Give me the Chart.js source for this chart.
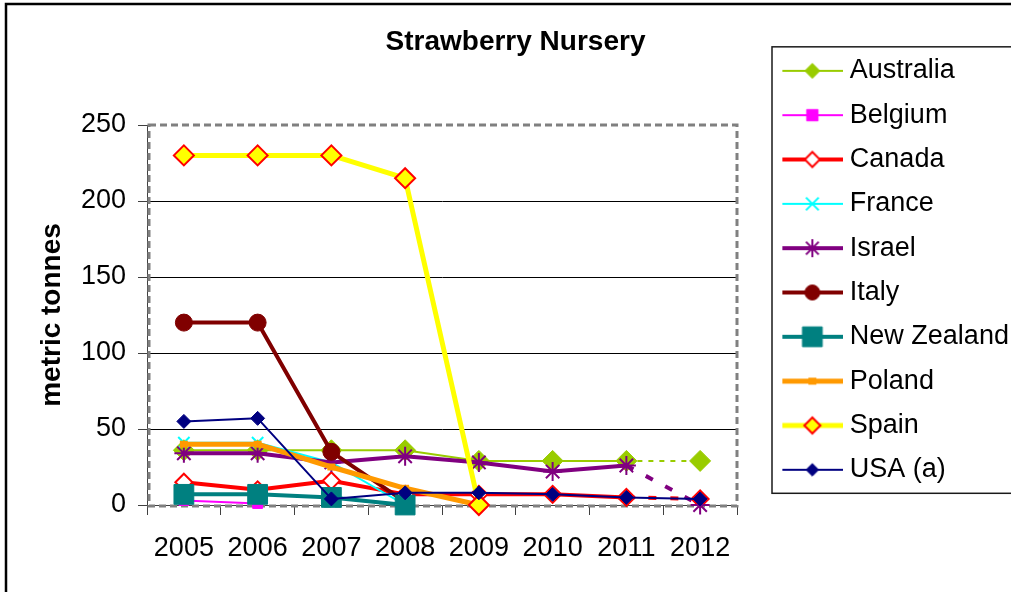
<!DOCTYPE html>
<html>
<head>
<meta charset="utf-8">
<title>Strawberry Nursery</title>
<script src="https://cdn.jsdelivr.net/npm/chart.js@4.4.1/dist/chart.umd.min.js"></script>
<style>
  html, body { margin: 0; padding: 0; background: #ffffff; }
  canvas { display: block; }
</style>
</head>
<body>
<canvas id="chart" width="1011" height="592"></canvas>
<script>
// ---- data (metric tonnes) ----
const years = ['2005', '2006', '2007', '2008', '2009', '2010', '2011', '2012'];
const yTickValues = [0, 50, 100, 150, 200, 250];

const australia  = [36, 36, 36, 36, 29, 29, 29, 29];
const belgium    = [3, 1, null, null, null, null, null, null];
const canada     = [15, 10, 16, 7, 7, 7, 5, 4];
const france     = [41, 41, 28, 0, null, null, null, null];
const israel     = [34, 34, 28, 32, 28, 22, 26, 0];
const italy      = [120, 120, 35, 2, null, null, null, null];
const newZealand = [7, 7, 5, 0, null, null, null, null];
const poland     = [40, 40, 25, 11, 0, null, null, null];
const spain      = [230, 230, 230, 215, 0, null, null, null];
const usa        = [55, 57, 4, 8, 8, 7, 5, 4];

// ---- series appearance ----
const FONT = "'Liberation Sans', Arial, Helvetica, sans-serif";
const series = [
  { label: 'Australia',   data: australia,  line: '#99CC00', width: 2, marker: 'rectRot',  radius: 10.5, legendRadius: 7.5, fill: '#99CC00', edge: '#99CC00', edgeWidth: 1, lastDash: [5, 6] },
  { label: 'Belgium',     data: belgium,    line: '#FF00FF', width: 2, marker: 'rect',     radius: 7,    legendRadius: 8,   fill: '#FF00FF', edge: '#FF00FF', edgeWidth: 1 },
  { label: 'Canada',      data: canada,     line: '#FF0000', width: 4, marker: 'rectRot',  radius: 8.5,  legendRadius: 7.5, fill: '#FFFFFF', edge: '#FF0000', edgeWidth: 2, lastDash: [8, 14] },
  { label: 'France',      data: france,     line: '#00FFFF', width: 2, marker: 'crossRot', radius: 8,    legendRadius: 9,   fill: '#00FFFF', edge: '#00FFFF', edgeWidth: 2 },
  { label: 'Israel',      data: israel,     line: '#800080', width: 4, marker: 'star',     radius: 9.5,  legendRadius: 9,   fill: '#800080', edge: '#800080', edgeWidth: 2, lastDash: [8, 14] },
  { label: 'Italy',       data: italy,      line: '#800000', width: 4, marker: 'circle',   radius: 8.5,  legendRadius: 7.5, fill: '#800000', edge: '#800000', edgeWidth: 1 },
  { label: 'New Zealand', data: newZealand, line: '#008080', width: 4, marker: 'rect',     radius: 14,   legendRadius: 14,  fill: '#008080', edge: '#008080', edgeWidth: 1 },
  { label: 'Poland',      data: poland,     line: '#FF9900', width: 5, marker: 'line',     radius: 4,    legendRadius: 4,   fill: '#FF9900', edge: '#FF9900', edgeWidth: 7 },
  { label: 'Spain',       data: spain,      line: '#FFFF00', width: 5, marker: 'rectRot',  radius: 10,   legendRadius: 8,   fill: '#FFFF00', edge: '#FF0000', edgeWidth: 2 },
  { label: 'USA (a)',     data: usa,        line: '#000080', width: 2, marker: 'rectRot',  radius: 7,    legendRadius: 6.3, fill: '#000080', edge: '#000080', edgeWidth: 1 }
];

// ---- legend layout ----
const LEGEND_FONT = 27;
const LEGEND_PAD = 17.33;
const LEGEND_BOX = 82;

// Legend key: a short line with the series marker drawn on it.
function legendIcon(s) {
  const cv = document.createElement('canvas');
  cv.width = 96;
  cv.height = 32;
  const g = cv.getContext('2d');
  g.strokeStyle = s.line;
  g.lineWidth = s.width;
  g.beginPath();
  g.moveTo(35, 16);
  g.lineTo(96, 16);
  g.stroke();
  g.fillStyle = s.fill;
  g.strokeStyle = s.edge;
  g.lineWidth = s.edgeWidth;
  const opts = { pointStyle: s.marker, radius: s.legendRadius, borderWidth: s.edgeWidth, rotation: 0 };
  if (Chart.helpers && Chart.helpers.drawPoint) {
    Chart.helpers.drawPoint(g, opts, 65, 16);
  } else {
    g.beginPath();
    g.arc(65, 16, s.legendRadius, 0, Math.PI * 2);
    g.fill();
    g.stroke();
  }
  return cv;
}
const legendIcons = series.map(legendIcon);

// Plot-area dashed frame, legend box and the outer chart border.
const chartFrames = {
  id: 'chartFrames',
  beforeDatasetsDraw(chart) {
    const { ctx, chartArea: a } = chart;
    ctx.save();
    ctx.strokeStyle = '#808080';
    ctx.lineWidth = 3;
    ctx.setLineDash([7, 4]);
    ctx.strokeRect(a.left + 2, a.top, a.right - a.left - 2, a.bottom - a.top + 1);
    ctx.restore();
  },
  afterDraw(chart) {
    const { ctx } = chart;
    const lg = chart.legend;
    const n = chart.data.datasets.length;
    const top = lg.top + LEGEND_PAD - 10.5;
    const bottom = lg.top + n * (LEGEND_FONT + LEGEND_PAD) + 10;
    ctx.save();
    ctx.strokeStyle = '#1a1a1a';
    ctx.lineWidth = 1.5;
    ctx.strokeRect(lg.left + 35, top, 400, bottom - top);
    ctx.strokeStyle = '#000000';
    ctx.lineWidth = 2.5;
    ctx.strokeRect(6, 4, 1400, 1400);
    ctx.restore();
  }
};

const datasets = series.map((s, i) => ({
  label: s.label,
  data: s.data,
  borderColor: s.line,
  backgroundColor: s.fill,
  borderWidth: s.width,
  borderJoinStyle: 'round',
  pointStyle: s.marker,
  pointRadius: s.radius,
  pointHoverRadius: s.radius,
  pointBackgroundColor: s.fill,
  pointBorderColor: s.edge,
  pointBorderWidth: s.edgeWidth,
  tension: 0,
  spanGaps: false,
  clip: false,
  order: series.length - i,
  segment: {
    borderDash: ctx => (s.lastDash && ctx.p0DataIndex === 6) ? s.lastDash : undefined
  }
}));

Chart.defaults.color = '#000000';
Chart.defaults.font.family = FONT;

new Chart(document.getElementById('chart'), {
  type: 'line',
  data: { labels: years, datasets: datasets },
  plugins: [chartFrames],
  options: {
    responsive: false,
    animation: false,
    devicePixelRatio: 1,
    events: [],
    layout: { padding: { left: 20, top: 40, right: 0, bottom: 0 } },
    plugins: {
      tooltip: { enabled: false },
      title: {
        display: true,
        text: 'Strawberry Nursery',
        color: '#000000',
        fullSize: true,
        font: { family: FONT, size: 28, weight: 'bold' },
        padding: { top: -14.8, bottom: 66.2 }
      },
      legend: {
        display: true,
        position: 'right',
        align: 'start',
        maxWidth: 274,
        labels: {
          usePointStyle: true,
          pointStyleWidth: LEGEND_BOX,
          padding: LEGEND_PAD,
          color: '#000000',
          font: { family: FONT, size: LEGEND_FONT },
          generateLabels: chart => chart.data.datasets.map((ds, i) => ({
            text: ds.label,
            pointStyle: legendIcons[i],
            fillStyle: ds.borderColor,
            strokeStyle: ds.borderColor,
            lineWidth: 0,
            hidden: false,
            datasetIndex: i,
            fontColor: '#000000'
          }))
        }
      }
    },
    scales: {
      x: {
        type: 'category',
        offset: true,
        afterFit: scale => { scale.height = 87; },
        grid: { offset: true, drawOnChartArea: false, tickLength: 10, color: '#404040', tickColor: '#404040' },
        border: { display: true, color: '#404040', width: 1 },
        ticks: { color: '#000000', font: { family: FONT, size: 27 }, padding: 17, maxRotation: 0, autoSkip: false }
      },
      y: {
        min: yTickValues[0],
        max: yTickValues[yTickValues.length - 1],
        afterFit: scale => { scale.width = 127; },
        afterBuildTicks: scale => { scale.ticks = yTickValues.map(v => ({ value: v })); },
        title: {
          display: true,
          text: 'metric tonnes',
          color: '#000000',
          font: { family: FONT, size: 28, weight: 'bold' },
          padding: { top: 15.2, bottom: 0 }
        },
        grid: {
          color: ctx => (ctx.tick && (ctx.tick.value === 0 || ctx.tick.value === 250)) ? 'rgba(0,0,0,0)' : '#000000',
          tickColor: '#404040',
          tickLength: 9,
          lineWidth: 1
        },
        border: { display: true, color: '#404040', width: 1 },
        ticks: { color: '#000000', font: { family: FONT, size: 27 }, padding: 12 }
      }
    }
  }
});
</script>
</body>
</html>
